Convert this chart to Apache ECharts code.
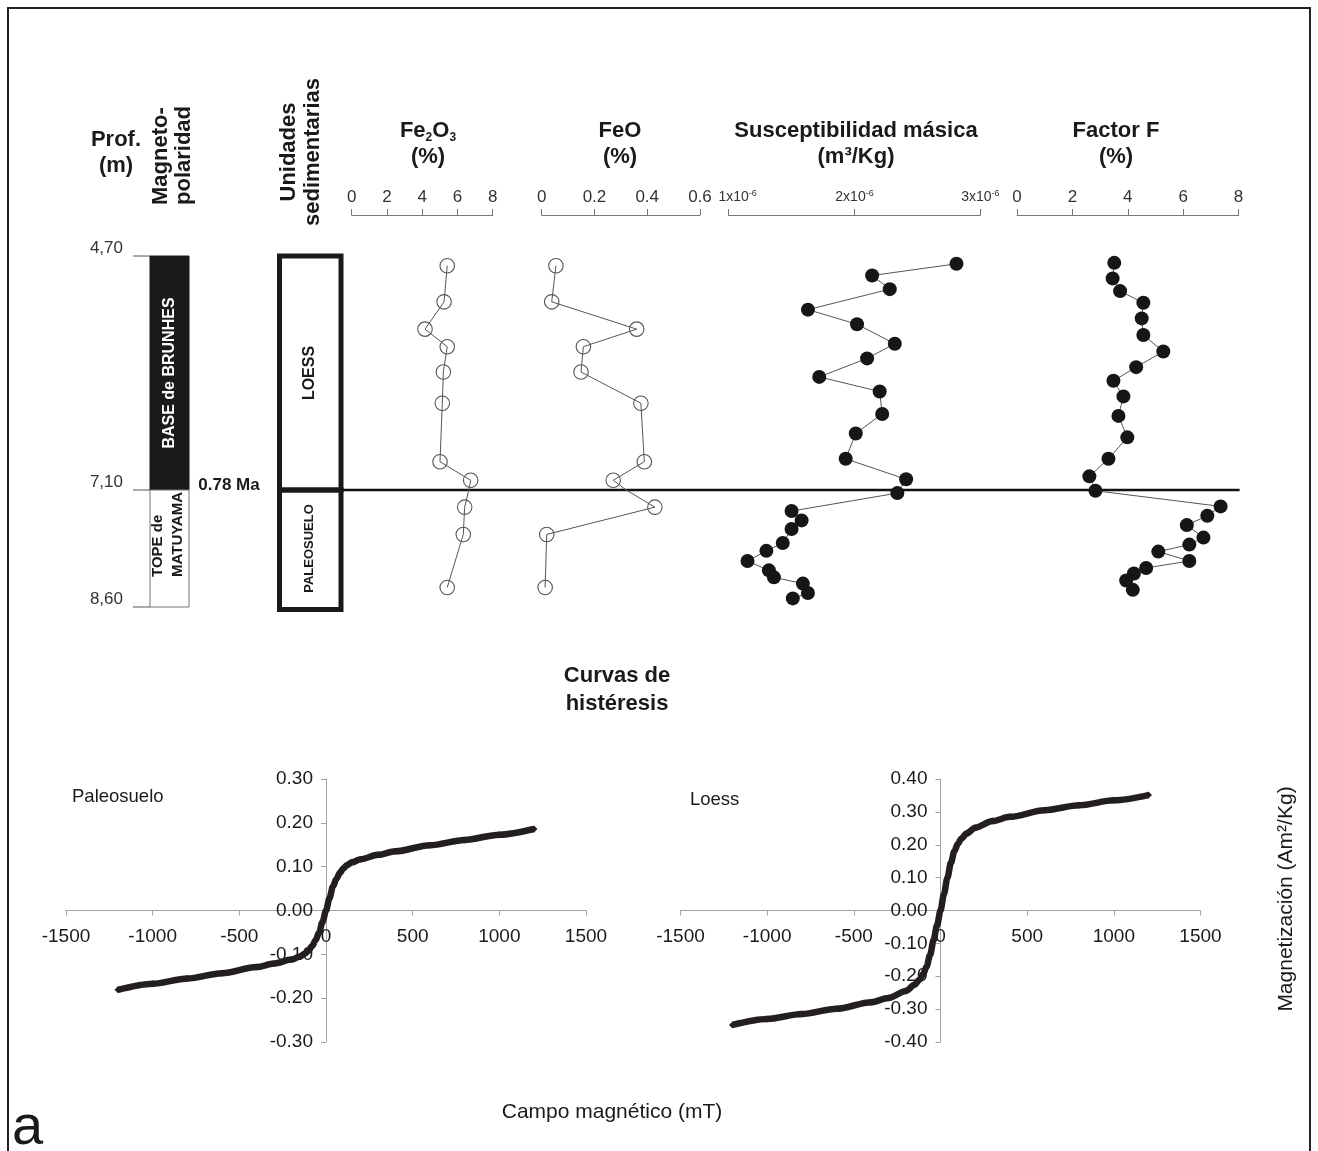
<!DOCTYPE html>
<html><head><meta charset="utf-8">
<script src="https://cdn.jsdelivr.net/npm/echarts@6/dist/echarts.min.js"></script>
<style>html,body{margin:0;padding:0;background:#fff}#c{width:1318px;height:1151px}</style>
</head><body><div id="c"></div>
<script>
// ---------------- data ----------------
const depthTicks = [4.70, 7.10, 8.60];
const depthTickLabels = ['4,70', '7,10', '8,60'];
const polarityNames = ['BASE de BRUNHES', 'TOPE de\nMATUYAMA'];
const polarityTop = [4.70, 7.10];
const polarityBase = [7.10, 8.60];
const unitNames = ['LOESS', 'PALEOSUELO'];
const unitTop = [4.70, 7.10];
const unitBase = [7.10, 8.60];
const boundaryDepth = 7.10;
const boundaryAge = '0.78 Ma';

const depthChem = [4.80, 5.17, 5.45, 5.63, 5.89, 6.21, 6.81, 7.00, 7.32, 7.67, 8.35];
const fe2o3 = [5.42, 5.24, 4.16, 5.42, 5.20, 5.14, 5.01, 6.75, 6.41, 6.33, 5.42];
const feo = [0.054, 0.038, 0.360, 0.158, 0.149, 0.376, 0.389, 0.271, 0.429, 0.019, 0.013];

const depthSusc = [4.78, 4.90, 5.04, 5.25, 5.40, 5.60, 5.75, 5.94, 6.09, 6.32, 6.52, 6.78, 6.99,
  7.14, 7.37, 7.49, 7.60, 7.78, 7.88, 8.01, 8.13, 8.22, 8.30, 8.42, 8.49];
// mass susceptibility, in units of 1e-6 m3/kg
const suscE6 = [2.81, 2.14, 2.28, 1.63, 2.02, 2.32, 2.10, 1.72, 2.20, 2.22, 2.01, 1.93, 2.41,
  2.34, 1.50, 1.58, 1.50, 1.43, 1.30, 1.15, 1.32, 1.36, 1.59, 1.63, 1.51];

const depthF = [4.77, 4.93, 5.06, 5.18, 5.34, 5.51, 5.68, 5.84, 5.98, 6.14, 6.34, 6.56, 6.78, 6.96,
  7.11, 7.31, 7.43, 7.55, 7.71, 7.80, 7.89, 8.01, 8.10, 8.17, 8.26, 8.38];
const factorF = [3.51, 3.45, 3.72, 4.56, 4.50, 4.56, 5.28, 4.30, 3.48, 3.84, 3.66, 3.98, 3.30, 2.61,
  2.83, 7.35, 6.87, 6.13, 6.73, 6.22, 5.10, 6.22, 4.66, 4.22, 3.94, 4.18];

const hystField = [-1200, -1000, -800, -600, -400, -300, -200, -150, -120, -100, -80, -60, -40, -20, 0,
  20, 40, 60, 80, 100, 120, 150, 200, 300, 400, 600, 800, 1000, 1200];
const paleoM = [-0.181, -0.167, -0.155, -0.143, -0.129, -0.121, -0.112, -0.105, -0.098, -0.091, -0.081, -0.068, -0.050, -0.026, 0.000,
  0.028, 0.055, 0.072, 0.086, 0.096, 0.103, 0.110, 0.117, 0.127, 0.135, 0.149, 0.161, 0.173, 0.186];
const loessM = [-0.348, -0.330, -0.315, -0.299, -0.279, -0.266, -0.245, -0.226, -0.210, -0.193, -0.170, -0.135, -0.090, -0.045, 0.000,
  0.050, 0.100, 0.145, 0.180, 0.203, 0.218, 0.234, 0.252, 0.272, 0.285, 0.305, 0.320, 0.335, 0.351];

const fe2o3Ticks = [0, 8, 2];
const feoTicks = [0, 0.6, 0.2];
const suscTicks = [1, 3, 1];
const fTicks = [0, 8, 2];
const fieldTicks = [-1500, 1500, 500];
const paleoTicks = [-0.3, 0.3, 0.1];
const loessTicks = [-0.4, 0.4, 0.1];

// ---------------- layout ----------------
const FONT = '"Liberation Sans", Arial, Helvetica, sans-serif';
const UP_TOP = 256, UP_H = 234, LO_TOP = 490, LO_H = 117;
const cols = [
  { depth: depthChem, vals: fe2o3, left: 351.7, width: 141, t: fe2o3Ticks, filled: false },
  { depth: depthChem, vals: feo, left: 541.7, width: 158.3, t: feoTicks, filled: false },
  { depth: depthSusc, vals: suscE6, left: 728.6, width: 251.8, t: suscTicks, filled: true, susc: true },
  { depth: depthF, vals: factorF, left: 1017.1, width: 221.5, t: fTicks, filled: true }
];

const grid = [], xAxis = [], yAxis = [], series = [];
const axisGray = '#777';

cols.forEach((c, i) => {
  grid.push({ left: c.left, top: UP_TOP, width: c.width, height: UP_H, outerBoundsMode: 'none' });
  grid.push({ left: c.left, top: LO_TOP, width: c.width, height: LO_H, outerBoundsMode: 'none' });
  const lab = c.susc ? {
    color: '#333', margin: 9, fontFamily: FONT,
    formatter: (v, idx) => (idx === 0 ? '{a0|' : '{a|') + v + 'x10}{s|-6}',
    rich: { a: { fontSize: 14, color: '#333', lineHeight: 17, fontFamily: FONT },
            a0: { fontSize: 14, color: '#333', lineHeight: 17, fontFamily: FONT, padding: [0, 0, 0, 18] },
            s: { fontSize: 9, color: '#333', lineHeight: 9, verticalAlign: 'top', fontFamily: FONT } }
  } : { fontSize: 17, color: '#333', margin: 9, fontFamily: FONT, formatter: v => String(v) };
  xAxis.push({
    gridIndex: 2 * i, type: 'value', position: 'top', offset: UP_TOP - 215,
    min: c.t[0], max: c.t[1], interval: c.t[2],
    axisLine: { show: true, lineStyle: { color: axisGray, width: 1 } },
    axisTick: { show: true, length: 6, lineStyle: { color: axisGray, width: 1 } },
    axisLabel: lab, splitLine: { show: false }
  });
  xAxis.push({ gridIndex: 2 * i + 1, type: 'value', min: c.t[0], max: c.t[1], show: false });
  yAxis.push({ gridIndex: 2 * i, type: 'value', inverse: true, min: depthTicks[0], max: depthTicks[1], show: false });
  yAxis.push({ gridIndex: 2 * i + 1, type: 'value', inverse: true, min: depthTicks[1], max: depthTicks[2], show: false });
  const data = c.depth.map((d, k) => [c.vals[k], d]);
  [0, 1].forEach(part => series.push({
    type: 'line', xAxisIndex: 2 * i + part, yAxisIndex: 2 * i + part, data: data, clip: true,
    symbol: 'circle', symbolSize: c.filled ? 14 : 14.5, showAllSymbol: true,
    lineStyle: { color: '#555', width: 1 },
    itemStyle: c.filled ? { color: '#161616' } : { color: 'rgba(255,255,255,0)', borderColor: '#555', borderWidth: 1.1 },
    emphasis: { disabled: true }, silent: true, animation: false, z: 3
  }));
});

// polarity column grids (8, 9) — depth scale for the left columns
grid.push({ left: 150, top: UP_TOP, width: 39, height: UP_H, outerBoundsMode: 'none' });
grid.push({ left: 150, top: LO_TOP, width: 39, height: LO_H, outerBoundsMode: 'none' });
xAxis.push({ gridIndex: 8, type: 'value', min: 0, max: 1, show: false });
xAxis.push({ gridIndex: 9, type: 'value', min: 0, max: 1, show: false });
yAxis.push({ gridIndex: 8, type: 'value', inverse: true, min: depthTicks[0], max: depthTicks[1], show: false });
yAxis.push({ gridIndex: 9, type: 'value', inverse: true, min: depthTicks[1], max: depthTicks[2], show: false });

// hysteresis grids (10, 11)
const HW = 520, HH = 263, HTOP = 779;
const hyst = [
  { left: 66, yt: paleoTicks, m: paleoM },
  { left: 680.5, yt: loessTicks, m: loessM }
];
hyst.forEach((h, j) => {
  const gi = 10 + j;
  grid.push({ left: h.left, top: HTOP, width: HW, height: HH, outerBoundsMode: 'none' });
  const line = { onZero: false, lineStyle: { color: '#a3a3a3', width: 1 } };
  // place each axis on the other axis' zero
  const xOff = -HH * (0 - h.yt[0]) / (h.yt[1] - h.yt[0]);
  const yOff = -HW * (0 - fieldTicks[0]) / (fieldTicks[1] - fieldTicks[0]);
  xAxis.push({
    gridIndex: gi, type: 'value', position: 'bottom', offset: xOff,
    min: fieldTicks[0], max: fieldTicks[1], interval: fieldTicks[2],
    axisLine: line, axisTick: { length: 5, lineStyle: { color: '#a3a3a3' } },
    axisLabel: { fontSize: 19, color: '#1a1a1a', margin: 17, fontFamily: FONT, formatter: v => String(v) },
    splitLine: { show: false }
  });
  yAxis.push({
    gridIndex: gi, type: 'value', position: 'left', offset: yOff,
    min: h.yt[0], max: h.yt[1], interval: h.yt[2],
    axisLine: line, axisTick: { length: 5, lineStyle: { color: '#a3a3a3' } },
    axisLabel: { fontSize: 19, color: '#1a1a1a', margin: 13, fontFamily: FONT, formatter: v => v.toFixed(2) },
    splitLine: { show: false }
  });
  series.push({
    type: 'line', xAxisIndex: gi, yAxisIndex: gi,
    data: hystField.map((f, k) => [f, h.m[k]]),
    smooth: 0.3, smoothMonotone: 'x',
    symbol: 'diamond', symbolSize: 7, showAllSymbol: true,
    lineStyle: { color: '#231f20', width: 6.5 },
    itemStyle: { color: '#231f20' },
    emphasis: { disabled: true }, silent: true, animation: false, z: 3
  });
});

const chart = echarts.init(document.getElementById('c'), null, { renderer: 'canvas' });
chart.setOption({
  animation: false,
  backgroundColor: '#ffffff',
  textStyle: { fontFamily: FONT },
  grid, xAxis, yAxis, series
});

// ---------------- decorations through the library's scales ----------------
const py = d => d <= boundaryDepth ? chart.convertToPixel({ yAxisIndex: 8 }, d) : chart.convertToPixel({ yAxisIndex: 9 }, d);
const polX0 = chart.convertToPixel({ xAxisIndex: 8 }, 0);
const polX1 = chart.convertToPixel({ xAxisIndex: 8 }, 1);

function txt(x, y, s, o) {
  o = o || {};
  const el = {
    type: 'text', x: x, y: y, rotation: o.rot || 0, z: 10, silent: true,
    style: {
      text: s, fill: o.color || '#1a1a1a',
      font: (o.bold ? 'bold ' : '') + (o.size || 16) + 'px ' + FONT,
      align: o.align || 'center', textAlign: o.align || 'center',
      verticalAlign: o.va || 'middle', textVerticalAlign: o.va || 'middle',
      lineHeight: o.lh || undefined
    }
  };
  if (o.rich) el.style.rich = o.rich;
  return el;
}

const G = [];
// frame
G.push({ type: 'rect', shape: { x: 8, y: 8, width: 1302, height: 1200 }, style: { fill: 'none', stroke: '#222', lineWidth: 2 }, silent: true });

// headers
G.push(txt(116, 153, 'Prof.\n(m)', { bold: true, size: 22, lh: 26 }));
G.push(txt(172.5, 205, 'Magneto-\npolaridad', { bold: true, size: 22, lh: 23, rot: Math.PI / 2, align: 'left' }));
G.push(txt(301, 152, 'Unidades\nsedimentarias', { bold: true, size: 22, lh: 24, rot: Math.PI / 2 }));
const titleRich = {
  b: { fontSize: 22, fontWeight: 'bold', fontFamily: FONT, fill: '#1a1a1a', lineHeight: 26 },
  s: { fontSize: 12, fontWeight: 'bold', fontFamily: FONT, fill: '#1a1a1a', lineHeight: 12, verticalAlign: 'bottom' }
};
G.push(txt(428, 131, '{b|Fe}{s|2}{b|O}{s|3}', { rich: titleRich, size: 22, bold: true }));
G.push(txt(428, 157, '(%)', { bold: true, size: 22 }));
G.push(txt(620, 131, 'FeO', { bold: true, size: 22 }));
G.push(txt(620, 157, '(%)', { bold: true, size: 22 }));
G.push(txt(856, 131, 'Susceptibilidad másica', { bold: true, size: 22 }));
G.push(txt(856, 157, '(m³/Kg)', { bold: true, size: 22 }));
G.push(txt(1116, 131, 'Factor F', { bold: true, size: 22 }));
G.push(txt(1116, 157, '(%)', { bold: true, size: 22 }));

// depth ticks
depthTicks.forEach((d, k) => {
  const y = py(d);
  G.push({ type: 'line', shape: { x1: 133, y1: y, x2: polX0, y2: y }, style: { stroke: '#555', lineWidth: 1 }, silent: true });
  G.push(txt(123, y + 1, depthTickLabels[k], { size: 17, color: '#333', align: 'right', va: 'bottom' }));
});

// polarity zones
polarityNames.forEach((n, k) => {
  const y0 = py(polarityTop[k]), y1 = py(polarityBase[k]);
  G.push({ type: 'rect', shape: { x: polX0, y: y0, width: polX1 - polX0, height: y1 - y0 },
    style: { fill: k === 0 ? '#1a1a1a' : '#ffffff', stroke: k === 0 ? '#1a1a1a' : '#777', lineWidth: 1 }, silent: true });
  if (k === 0) {
    G.push(txt((polX0 + polX1) / 2, (y0 + y1) / 2, n, { bold: true, size: 16, color: '#ffffff', rot: Math.PI / 2 }));
  } else {
    G.push(txt((polX0 + polX1) / 2 - 2, y1 - 30, n, { bold: true, size: 15, lh: 20, rot: Math.PI / 2, align: 'left' }));
  }
});
G.push(txt(229, py(boundaryDepth) - 5, boundaryAge, { bold: true, size: 17 }));

// sedimentary units
unitNames.forEach((n, k) => {
  const y0 = py(unitTop[k]), y1 = py(unitBase[k]) + (k === unitNames.length - 1 ? 2.5 : 0);
  G.push({ type: 'rect', shape: { x: 279.5, y: y0, width: 61.5, height: y1 - y0 },
    style: { fill: 'none', stroke: '#1a1a1a', lineWidth: 5 }, silent: true });
  G.push(txt(309.5, (py(unitTop[k]) + py(unitBase[k])) / 2, n, { bold: true, size: k === 0 ? 16 : 13, rot: Math.PI / 2 }));
});

// boundary line across the profiles
const yb = py(boundaryDepth);
G.push({ type: 'line', shape: { x1: 343, y1: yb, x2: chart.convertToPixel({ xAxisIndex: 6 }, fTicks[1]) + 1, y2: yb },
  style: { stroke: '#111', lineWidth: 2.5 }, silent: true, z: 1 });

// hysteresis texts
G.push(txt(617, 676, 'Curvas de', { bold: true, size: 22 }));
G.push(txt(617, 704, 'histéresis', { bold: true, size: 22 }));
G.push(txt(72, 797, 'Paleosuelo', { size: 18.5, align: 'left' }));
G.push(txt(690, 800, 'Loess', { size: 18.5, align: 'left' }));
G.push(txt(1286, 899, 'Magnetización (Am²/Kg)', { size: 21, rot: Math.PI / 2 }));
G.push(txt(612, 1112, 'Campo magnético (mT)', { size: 21 }));
G.push(txt(12, 1129, 'a', { size: 56, align: 'left', va: 'middle' }));

chart.setOption({ graphic: { elements: G } });
</script>
</body></html>
